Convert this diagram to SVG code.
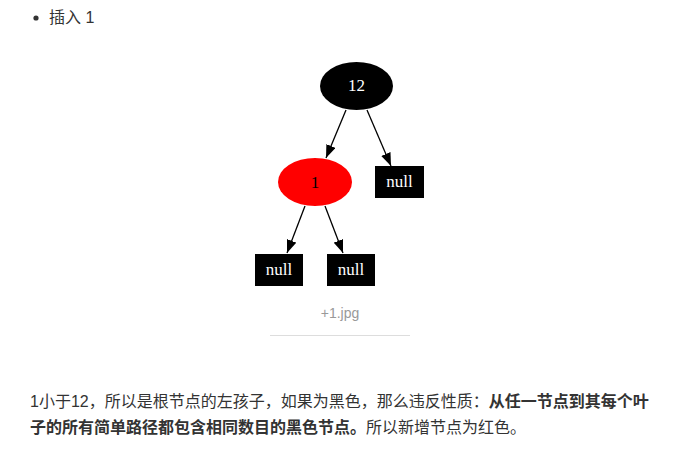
<svg xmlns="http://www.w3.org/2000/svg" width="682" height="454" viewBox="0 0 682 454">
<style>
.body{font-family:"Liberation Sans","Noto Sans CJK SC",sans-serif;font-size:16px;fill:#333}
.b{font-weight:bold}
.lbl{font-family:"Liberation Serif",serif;font-size:17px;text-anchor:middle}
.edge{stroke:#000;stroke-width:1.3;fill:none}
</style>
<defs>
<marker id="ah" markerUnits="userSpaceOnUse" markerWidth="14" markerHeight="10" refX="13" refY="5" orient="auto">
<path d="M0,0 L13,5 L0,10 Z" fill="#000"/>
</marker>
</defs>
<rect width="682" height="454" fill="#fff"/>
<circle cx="36" cy="18" r="2.6" fill="#333"/>
<text class="body" x="49" y="23" font-size="15">插入 1</text>
<g id="connectors">
<line class="edge" x1="346" y1="110" x2="326" y2="158" marker-end="url(#ah)"/>
<line class="edge" x1="367" y1="110" x2="391" y2="166" marker-end="url(#ah)"/>
<line class="edge" x1="305" y1="206" x2="287" y2="253" marker-end="url(#ah)"/>
<line class="edge" x1="325" y1="206" x2="343" y2="253" marker-end="url(#ah)"/>
</g>
<g id="n12">
<ellipse cx="356.5" cy="86" rx="36.5" ry="24" fill="#000"/>
<text class="lbl" x="356.5" y="91" fill="#fff">12</text>
</g>
<g id="n1">
<ellipse cx="315" cy="182" rx="37" ry="24" fill="#f00"/>
<text class="lbl" x="315" y="188" fill="#000">1</text>
</g>
<g id="nullR">
<rect x="375" y="166" width="49" height="32" fill="#000"/>
<text class="lbl" x="399.5" y="187" fill="#fff">null</text>
</g>
<g id="nullLL">
<rect x="255" y="254" width="48" height="32" fill="#000"/>
<text class="lbl" x="279" y="275" fill="#fff">null</text>
</g>
<g id="nullLR">
<rect x="327" y="254" width="48" height="32" fill="#000"/>
<text class="lbl" x="351" y="275" fill="#fff">null</text>
</g>
<text x="340" y="318" font-family="Liberation Sans,sans-serif" font-size="14" fill="#999" text-anchor="middle">+1.jpg</text>
<line x1="270" y1="335.5" x2="410" y2="335.5" stroke="#ddd" stroke-width="1"/>
<text class="body" x="30" y="407">1小于12，所以是根节点的左孩子，如果为黑色，那么违反性质：<tspan class="b">从任一节点到其每个叶</tspan></text>
<text class="body" x="30" y="433"><tspan class="b">子的所有简单路径都包含相同数目的黑色节点。</tspan>所以新增节点为红色。</text>
</svg>
